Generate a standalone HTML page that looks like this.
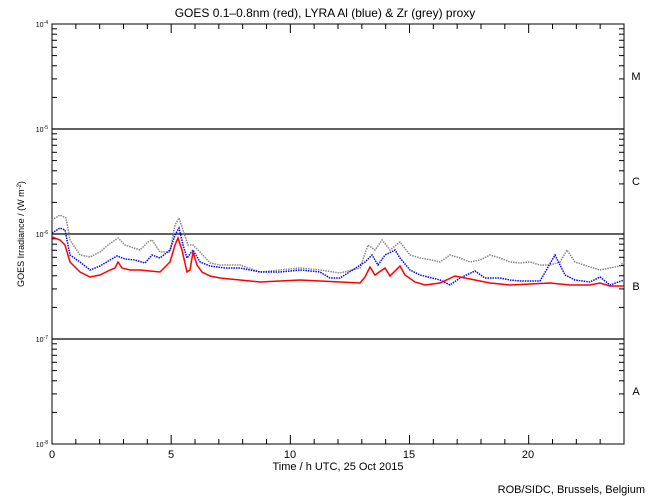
<!DOCTYPE html>
<html><head><meta charset="utf-8"><style>
body{margin:0;background:#fff}
svg{display:block;font-family:"Liberation Sans",sans-serif}
</style></head><body>
<svg id="s" width="650" height="500" xmlns="http://www.w3.org/2000/svg">
<rect width="650" height="500" fill="#fff"/>
<text x="325" y="17" font-size="12" text-anchor="middle">GOES 0.1–0.8nm (red), LYRA Al (blue) &amp; Zr (grey) proxy</text>
<g id="ax" stroke="#000" stroke-width="1" fill="none"></g>
<g stroke="#000" stroke-width="1.3">
<line x1="52" y1="129" x2="624" y2="129"/><line x1="52" y1="234" x2="624" y2="234"/><line x1="52" y1="339" x2="624" y2="339"/>
</g>
<g fill="none" stroke-width="1.5" stroke-dasharray="1.5 1">
<polyline stroke="#888" points="52,220 60,215 66,218 70,240 80,255 90,257 100,252 108,245 118,238 125,245 140,250 148,242 152,240 160,252 170,252 175,225 179,218 183,230 188,245 193,245 200,252 210,263 220,265 240,265 260,272 280,270 300,268 320,270 340,273 360,268 368,245 375,250 382,240 390,250 400,242 410,255 420,258 432,260 440,262 450,255 460,258 470,262 480,260 490,255 500,258 510,262 520,263 530,262 540,265 550,265 560,262 567,250 575,262 590,267 600,270 610,268 620,266 624,262"/>
<polyline stroke="#00f" points="52,233 60,228 65,230 70,255 80,262 90,270 100,266 110,260 117,256 125,259 135,260 145,263 152,255 160,258 170,250 175,235 179,228 183,245 187,258 193,250 200,262 210,266 225,268 240,268 260,272 280,272 300,270 320,272 330,278 340,278 365,262 372,255 378,265 385,255 395,250 400,258 410,270 420,275 440,280 450,285 460,278 475,271 485,278 500,278 510,280 520,281 540,281 555,255 565,275 575,280 590,282 600,277 610,285 624,280"/>
<polyline stroke="#f00" stroke-dasharray="none" points="52,237 60,240 65,245 70,262 80,272 90,277 100,275 110,270 115,268 118,262 122,268 130,270 140,270 150,271 160,272 170,262 175,245 178,238 182,250 187,272 190,270 193,252 197,265 202,272 210,276 220,278 240,280 260,282 280,281 300,280 320,281 340,282 360,283 365,277 370,267 375,275 385,268 390,276 400,266 405,275 415,282 425,285 440,283 455,276 470,279 490,283 510,285 530,284 550,283 570,285 590,285 600,283 610,286 624,286"/>
</g>
<g font-size="11" text-anchor="middle">
<text x="52" y="458">0</text><text x="171" y="458">5</text><text x="290" y="458">10</text><text x="409" y="458">15</text><text x="528" y="458">20</text>
<text x="338" y="470">Time / h UTC, 25 Oct 2015</text>
<text x="636" y="80">M</text><text x="636" y="185">C</text><text x="636" y="290">B</text><text x="636" y="395">A</text>
</g>
<g font-size="7" text-anchor="end">
<text x="48" y="27">10<tspan dy="-3" font-size="5">-4</tspan></text>
<text x="48" y="132">10<tspan dy="-3" font-size="5">-5</tspan></text>
<text x="48" y="237">10<tspan dy="-3" font-size="5">-6</tspan></text>
<text x="48" y="342">10<tspan dy="-3" font-size="5">-7</tspan></text>
<text x="48" y="447">10<tspan dy="-3" font-size="5">-8</tspan></text>
</g>
<text transform="translate(24,234) rotate(-90)" font-size="9" text-anchor="middle">GOES Irradiance / (W m<tspan dy="-3" font-size="6">-2</tspan><tspan dy="3">)</tspan></text>
<text x="645" y="493" font-size="11" text-anchor="end">ROB/SIDC, Brussels, Belgium</text>
</svg>
<script>
var g=document.getElementById('ax'),h='<rect x="52" y="24" width="572" height="420"/>';
var L=52,R=624,T=24,B=444;
for(var i=0;i<=24;i++){var x=L+i*(R-L)/24,l=i%5==0?9:5;h+='<line x1="'+x+'" y1="'+B+'" x2="'+x+'" y2="'+(B-l)+'"/><line x1="'+x+'" y1="'+T+'" x2="'+x+'" y2="'+(T+l)+'"/>';}
for(var d=0;d<4;d++)for(var k=1;k<=10;k++){var y=B-105*(d+Math.log10(k)),l=k==1||k==10?9:5;h+='<line x1="'+L+'" y1="'+y+'" x2="'+(L+l)+'" y2="'+y+'"/><line x1="'+R+'" y1="'+y+'" x2="'+(R-l)+'" y2="'+y+'"/>';}
g.innerHTML=h;
</script>
</body></html>
